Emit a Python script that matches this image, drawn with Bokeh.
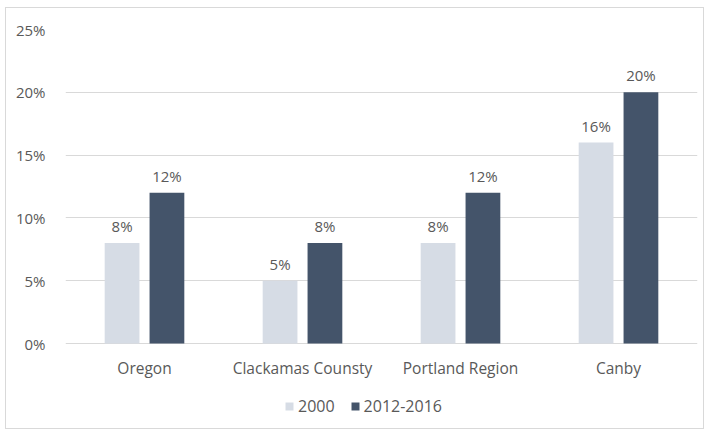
from bokeh.plotting import figure
from bokeh.models import ColumnDataSource, FactorRange, PrintfTickFormatter, Legend, LegendItem, Range1d
from bokeh.transform import dodge
from bokeh.core.properties import value
from bokeh.embed import file_html
from bokeh.resources import INLINE

categories = ["Oregon", "Clackamas Counsty", "Portland Region", "Canby"]
series_names = ["2000", "2012-2016"]
values_2000 = [8, 5, 8, 16]
values_2012_2016 = [12, 8, 12, 20]
y_ticks = [0, 5, 10, 15, 20, 25]

LIGHT = "#D6DCE5"
DARK = "#44546A"
TEXT = "#595959"
GRID = "#D9D9D9"
FONT = "Open Sans"
FS = "15px"

src = ColumnDataSource(dict(
    cat=categories,
    v1=values_2000,
    v2=values_2012_2016,
    l1=[f"{v}%" for v in values_2000],
    l2=[f"{v}%" for v in values_2012_2016],
    zero=[0] * len(categories),
))

# frame extends below 0 to hold category labels and legend
p = figure(x_range=FactorRange(*categories), y_range=Range1d(-6.52, 25),
           width=699, height=422, output_backend="svg", toolbar_location=None,
           min_border_left=59, min_border_right=8, min_border_top=21, min_border_bottom=5)
p.styles = {"margin-left": "5px", "margin-top": "7px", "border": "1px solid #D9D9D9"}
p.outline_line_color = None
p.xaxis.visible = False

bw = 0.22
off = 0.142
r1 = p.vbar(x=dodge("cat", -off, range=p.x_range), top="v1", width=bw, source=src,
            fill_color=LIGHT, line_color=None)
r2 = p.vbar(x=dodge("cat", off, range=p.x_range), top="v2", width=bw, source=src,
            fill_color=DARK, line_color=None)

for xo, col, vcol in ((-off, "l1", "v1"), (off, "l2", "v2")):
    p.text(x=dodge("cat", xo, range=p.x_range), y=vcol, text=col,
           source=src, text_align="center", text_baseline="bottom", y_offset=-7,
           text_font=value(FONT), text_font_size=FS, text_color=TEXT)

# category labels
p.text(x="cat", y="zero", text="cat", source=src, text_align="center", text_baseline="top",
       y_offset=13, text_font=value(FONT), text_font_size="15.5px", text_color=TEXT)

p.yaxis.ticker = y_ticks
p.yaxis.formatter = PrintfTickFormatter(format="%d%%")
ax = p.yaxis[0]
ax.axis_line_color = None
ax.major_tick_line_color = None
ax.minor_tick_line_color = None
ax.major_label_text_font = FONT
ax.major_label_text_font_size = FS
ax.major_label_text_color = TEXT
ax.major_label_standoff = 14
p.xgrid.grid_line_color = None
p.ygrid.grid_line_color = GRID
p.ygrid.grid_line_width = 1

legend = Legend(items=[LegendItem(label=series_names[0], renderers=[r1]),
                       LegendItem(label=series_names[1], renderers=[r2])],
                orientation="horizontal", location=(219, 8),
                label_text_font=FONT, label_text_font_size="16px", label_text_color=TEXT,
                glyph_width=10, glyph_height=10, spacing=15, label_standoff=4,
                border_line_color=None, background_fill_alpha=0, margin=0, padding=8)
p.add_layout(legend)

open("out.html", "w").write(file_html(p, INLINE))
